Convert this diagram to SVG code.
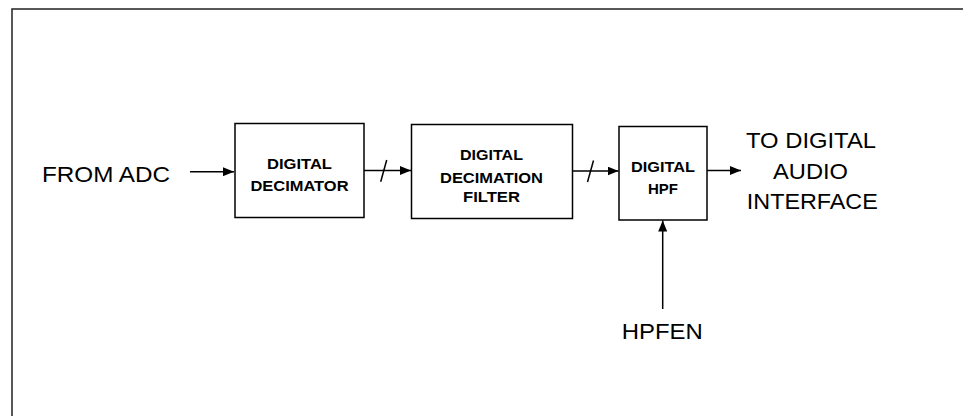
<svg xmlns="http://www.w3.org/2000/svg" width="963" height="416" viewBox="0 0 963 416">
<style>
.box{fill:#fff;stroke:#000;stroke-width:1.5}
.lbl{font-family:"Liberation Sans",Arial,sans-serif;font-size:14px;font-weight:bold;text-anchor:middle;fill:#000}
.big{font-family:"Liberation Sans",Arial,sans-serif;font-size:21.5px;fill:#000;text-anchor:middle}
.ln{stroke:#000;stroke-width:1.5;fill:none}
</style>
<defs>
<marker id="ah" viewBox="0 0 11 9" refX="11" refY="4.5" markerWidth="11" markerHeight="9" markerUnits="userSpaceOnUse" orient="auto">
<path d="M0,0 L11,4.5 L0,9 Z" fill="#000"/>
</marker>
</defs>
<rect width="963" height="416" fill="#fff"/>
<path d="M12,416 V9 H963" fill="none" stroke="#222" stroke-width="1.5"/>
<g id="decimator">
<rect class="box" x="235" y="123.5" width="129" height="94"/>
<text class="lbl" x="299.5" y="168.5" textLength="65" lengthAdjust="spacingAndGlyphs">DIGITAL</text>
<text class="lbl" x="299.5" y="190.5" textLength="98" lengthAdjust="spacingAndGlyphs">DECIMATOR</text>
</g>
<g id="decim-filter">
<rect class="box" x="411.5" y="124.5" width="161" height="94"/>
<text class="lbl" x="491.5" y="159.5" textLength="63" lengthAdjust="spacingAndGlyphs">DIGITAL</text>
<text class="lbl" x="491.5" y="182.5" textLength="103" lengthAdjust="spacingAndGlyphs">DECIMATION</text>
<text class="lbl" x="491.5" y="201.5" textLength="57" lengthAdjust="spacingAndGlyphs">FILTER</text>
</g>
<g id="hpf">
<rect class="box" x="619" y="126.5" width="88" height="93.5"/>
<text class="lbl" x="663" y="171.5" textLength="64" lengthAdjust="spacingAndGlyphs">DIGITAL</text>
<text class="lbl" x="663" y="194" textLength="30" lengthAdjust="spacingAndGlyphs">HPF</text>
</g>
<g id="from-adc">
<text class="big" x="106" y="182" textLength="128" lengthAdjust="spacingAndGlyphs">FROM ADC</text>
</g>
<g id="to-dai">
<text class="big" x="811" y="148.3" textLength="130" lengthAdjust="spacingAndGlyphs">TO DIGITAL</text>
<text class="big" x="810.5" y="179" textLength="75" lengthAdjust="spacingAndGlyphs">AUDIO</text>
<text class="big" x="812.3" y="209" textLength="131" lengthAdjust="spacingAndGlyphs">INTERFACE</text>
</g>
<g id="hpfen">
<text class="big" x="662.3" y="339" textLength="81" lengthAdjust="spacingAndGlyphs">HPFEN</text>
</g>
<g id="connectors">
<line class="ln" x1="190" y1="171.7" x2="234" y2="171.7" marker-end="url(#ah)"/>
<line class="ln" x1="364" y1="170.5" x2="411" y2="170.5" marker-end="url(#ah)"/>
<line class="ln" x1="380.7" y1="181.7" x2="386.7" y2="160"/>
<line class="ln" x1="573" y1="171" x2="618.5" y2="171" marker-end="url(#ah)"/>
<line class="ln" x1="587.5" y1="182" x2="593.5" y2="160.5"/>
<line class="ln" x1="707" y1="170.5" x2="741" y2="170.5" marker-end="url(#ah)"/>
<line class="ln" x1="662.7" y1="309" x2="662.7" y2="220.5" marker-end="url(#ah)"/>
</g>
</svg>
